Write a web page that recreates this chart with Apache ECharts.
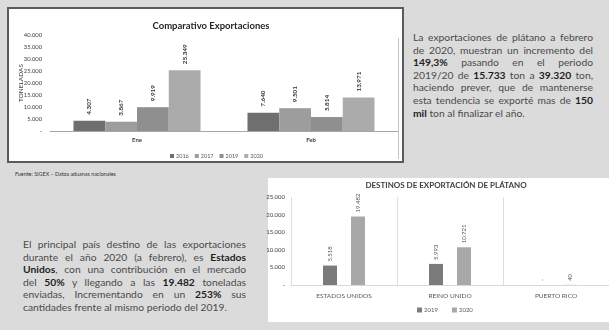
<!DOCTYPE html>
<html>
<head>
<meta charset="utf-8">
<script src="https://cdn.jsdelivr.net/npm/echarts@6/dist/echarts.min.js"></script>
<style>
  body { margin: 0; }
  #page { position: relative; width: 609px; height: 330px; overflow: hidden; background: #dbdbdb; font-family: 'Lato', sans-serif; }
  .box1 { position: absolute; left: 7px; top: 7px; width: 393px; height: 152px; background: #fff; border: 2px solid #5b5b5b; }
  .shade { position: absolute; left: 398px; top: 38px; width: 1px; height: 121px; background: #c4c4c4; }
  .box2 { position: absolute; left: 268px; top: 178px; width: 341px; height: 144px; background: #fff; }
  .txt { position: absolute; font-size: 10.3px; line-height: 12.6px; color: #4a4a4a; }
  .txt div { text-align: justify; text-align-last: justify; white-space: nowrap; }
  .txt div.last { text-align-last: left; }
  .txt b { color: #1f1f1f; }
  .src { position: absolute; left: 15px; top: 171px; font-size: 5.4px; color: #333; }
  #chart { position: absolute; left: 0; top: 0; width: 609px; height: 330px; }
</style>
</head>
<body>
<div id="page">
  <div class="box1"></div>
  <div class="shade"></div>
  <div class="box2"></div>
  <div class="txt" style="left:413px; top:31px; width:180px;">
    <div>La exportaciones de plátano a febrero</div>
    <div>de 2020, muestran un incremento del</div>
    <div><b>149,3%</b> pasando en el periodo</div>
    <div>2019/20 de <b>15.733</b> ton a <b>39.320</b> ton,</div>
    <div>haciendo prever, que de mantenerse</div>
    <div>esta tendencia se exporté mas de <b>150</b></div>
    <div class="last"><b>mil</b> ton al finalizar el año.</div>
  </div>
  <div class="src">Fuente: SIGEX – Datos aduanas nacionales</div>
  <div class="txt" style="left:23px; top:238px; width:223px;">
    <div>El principal país destino de las exportaciones</div>
    <div>durante el año 2020 (a febrero), es <b>Estados</b></div>
    <div><b>Unidos</b>, con una contribución en el mercado</div>
    <div>del <b>50%</b> y llegando a las <b>19.482</b> toneladas</div>
    <div>enviadas, Incrementando en un <b>253%</b> sus</div>
    <div class="last">cantidades frente al mismo periodo del 2019.</div>
  </div>
  <div id="chart"></div>
</div>
<script>
  // comparativo exportaciones (toneladas)
  const MONTHS = ['Ene', 'Feb'];
  const YEARS = ['2016', '2017', '2019', '2020'];
  const EXP_2016 = [4307, 7640];
  const EXP_2017 = [3867, 9501];
  const EXP_2019 = [9919, 5814];
  const EXP_2020 = [25349, 13971];
  const YEAR_COLORS = ['#6f6f6f', '#9d9d9d', '#8f8f8f', '#ababab'];

  // destinos
  const DEST = ['ESTADOS UNIDOS', 'REINO UNIDO', 'PUERTO RICO'];
  const DEST_2019 = [5518, 5993, 0];
  const DEST_2020 = [19482, 10721, 40];
  const DEST_COLORS = ['#7b7b7b', '#a8a8a8'];

  function fmt(v) {
    if (!v) return '-';
    return String(v).replace(/\B(?=(\d{3})+(?!\d))/g, '.');
  }

  const TXT = '#595959';

  function barLabel(size, color, weight, dist) {
    return {
      show: true,
      position: 'top',
      rotate: 90,
      align: 'left',
      verticalAlign: 'middle',
      distance: dist,
      fontSize: size,
      fontWeight: weight,
      color: color,
      formatter: function (p) { return fmt(p.value); }
    };
  }

  const series1 = [EXP_2016, EXP_2017, EXP_2019, EXP_2020].map(function (d, i) {
    return {
      name: YEARS[i],
      type: 'bar',
      xAxisIndex: 0,
      yAxisIndex: 0,
      data: d,
      barGap: '0%',
      barCategoryGap: '27%',
      itemStyle: { color: YEAR_COLORS[i] },
      label: barLabel(6.3, '#333', 'bold', 6)
    };
  });

  const series2 = [DEST_2019, DEST_2020].map(function (d, i) {
    return {
      name: 'd' + (i === 0 ? '2019' : '2020'),
      type: 'bar',
      xAxisIndex: 1,
      yAxisIndex: 1,
      data: d,
      barWidth: 14,
      barGap: '100%',
      itemStyle: { color: DEST_COLORS[i] },
      label: barLabel(6, TXT, 'normal', 4)
    };
  });

  const chart = echarts.init(document.getElementById('chart'));
  chart.setOption({
    animation: false,
    backgroundColor: 'transparent',
    textStyle: { fontFamily: 'Lato' },
    title: [
      {
        text: 'Comparativo Exportaciones',
        left: 206, top: 16, textAlign: 'center',
        textStyle: { fontSize: 9.5, fontWeight: 'bold', color: '#262626' }
      },
      {
        text: 'DESTINOS DE EXPORTACIÓN DE PLÁTANO',
        left: 441, top: 176, textAlign: 'center',
        textStyle: { fontSize: 8, fontWeight: 'bold', color: '#404040' }
      }
    ],
    legend: [
      {
        data: YEARS, left: 165, top: 148, icon: 'rect',
        itemWidth: 4, itemHeight: 4, itemGap: 6,
        textStyle: { fontSize: 5.5, color: TXT, padding: [0, 0, 0, -3] }
      },
      {
        data: ['d2019', 'd2020'], left: 412, top: 302, icon: 'rect',
        itemWidth: 5, itemHeight: 5, itemGap: 14,
        formatter: function (n) { return n.slice(1); },
        textStyle: { fontSize: 6, color: TXT, padding: [0, 0, 0, -3] }
      }
    ],
    grid: [
      { left: 50, top: 35, width: 348, height: 96, outerBoundsMode: 'none' },
      { left: 291, top: 197, width: 318, height: 88, outerBoundsMode: 'none' }
    ],
    xAxis: [
      {
        gridIndex: 0, type: 'category', data: MONTHS,
        axisLine: { lineStyle: { color: '#a6a6a6' } },
        axisTick: { show: false },
        axisLabel: { fontSize: 6, fontWeight: 'bold', color: '#404040', margin: 6 }
      },
      {
        gridIndex: 1, type: 'category', data: DEST,
        axisLine: { lineStyle: { color: '#d9d9d9' } },
        axisTick: { show: false },
        splitLine: { show: true, lineStyle: { color: '#dedede' } },
        axisLabel: { fontSize: 6.5, color: TXT, margin: 7 }
      }
    ],
    yAxis: [
      {
        gridIndex: 0, type: 'value', min: 0, max: 40000, interval: 5000,
        name: 'TONELADAS', nameLocation: 'middle', nameGap: 26, nameRotate: 90,
        nameMoveOverlap: false,
        nameTextStyle: { fontSize: 6.5, color: '#404040' },
        axisLabel: { fontSize: 5.8, color: '#404040', margin: 8, formatter: fmt },
        axisLine: { show: false }, axisTick: { show: false }, splitLine: { show: false }
      },
      {
        gridIndex: 1, type: 'value', min: 0, max: 25000, interval: 5000,
        axisLabel: { fontSize: 6, color: '#404040', margin: 6, formatter: fmt },
        axisLine: { show: false }, axisTick: { show: false }, splitLine: { show: false }
      }
    ],
    series: series1.concat(series2)
  });
</script>
</body>
</html>
